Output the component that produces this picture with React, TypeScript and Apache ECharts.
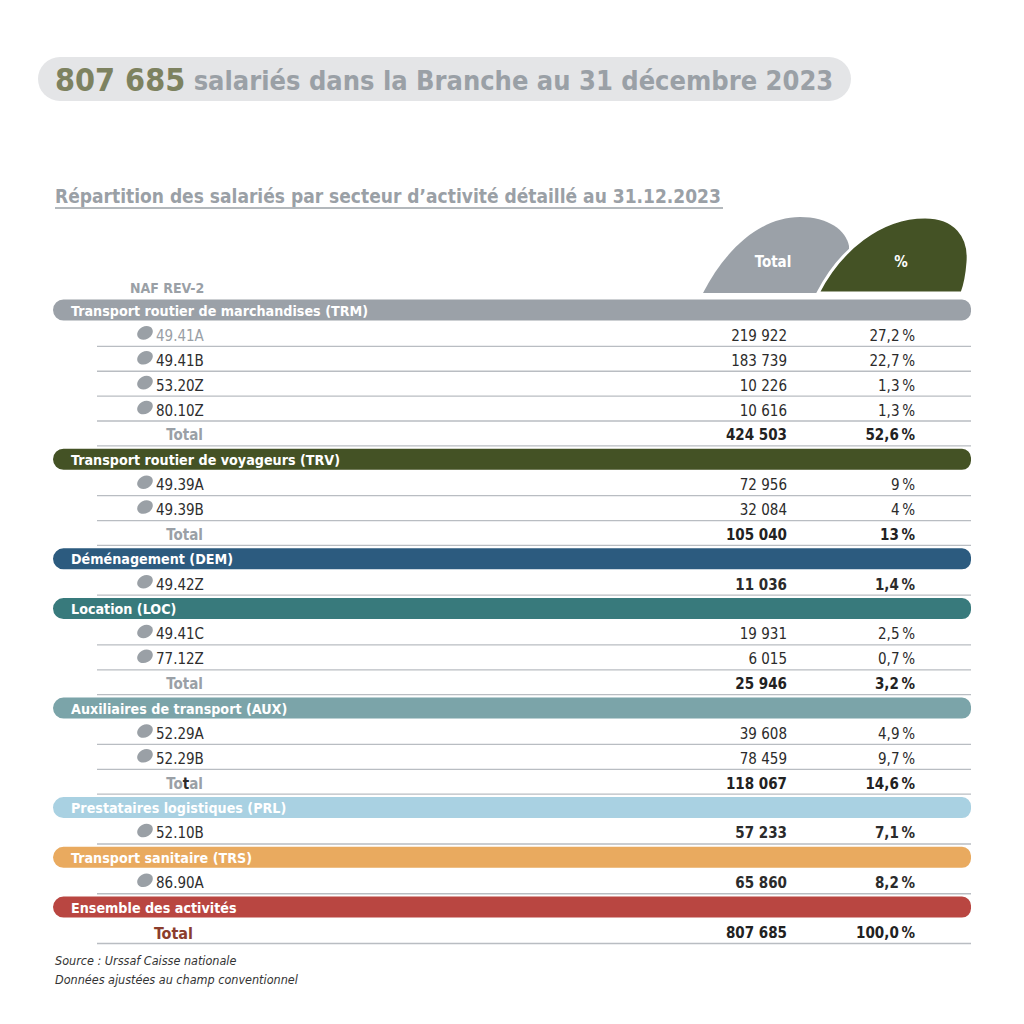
import React, { useEffect, useRef } from "react";
import * as echarts from "echarts";

const titleValue = "807 685";
const titleRest = " salariés dans la Branche au 31 décembre 2023";
const subtitle = "Répartition des salariés par secteur d’activité détaillé au 31.12.2023";
const nafLabel = "NAF REV-2";
const colHeaders = ["Total", "%"];

const sectorNames = [
  "Transport routier de marchandises (TRM)",
  "Transport routier de voyageurs (TRV)",
  "Déménagement (DEM)",
  "Location (LOC)",
  "Auxiliaires de transport (AUX)",
  "Prestataires logistiques (PRL)",
  "Transport sanitaire (TRS)",
  "Ensemble des activités",
];
const codes: string[][] = [
  ["49.41A", "49.41B", "53.20Z", "80.10Z"],
  ["49.39A", "49.39B"],
  ["49.42Z"],
  ["49.41C", "77.12Z"],
  ["52.29A", "52.29B"],
  ["52.10B"],
  ["86.90A"],
  [],
];
const effectifs: number[][] = [
  [219922, 183739, 10226, 10616],
  [72956, 32084],
  [11036],
  [19931, 6015],
  [39608, 78459],
  [57233],
  [65860],
  [],
];
const parts: number[][] = [
  [27.2, 22.7, 1.3, 1.3],
  [9, 4],
  [1.4],
  [2.5, 0.7],
  [4.9, 9.7],
  [7.1],
  [8.2],
  [],
];
const totauxEffectif: (number | null)[] = [424503, 105040, null, 25946, 118067, null, null, 807685];
const totauxPart: (number | null)[] = [52.6, 13, null, 3.2, 14.6, null, null, 100.0];
const sources = ["Source : Urssaf Caisse nationale", "Données ajustées au champ conventionnel"];

const sectorColors = ["#9ba1a8", "#445225", "#2c5b7f", "#387a7c", "#7ba4a9", "#a9d1e2", "#e9aa5f", "#b94641"];

const FONT = "'DejaVu Sans Condensed', 'Liberation Sans Narrow', Roboto, sans-serif";

function fmtNum(n: number) {
  return String(n).replace(/\B(?=(\d{3})+(?!\d))/g, " ");
}
function fmtPct(v: number) {
  const s = Number.isInteger(v) && v < 100 ? String(v) : v.toFixed(1);
  return s.replace(".", ",") + "\u2009%";
}

echarts.graphic.registerShape(
  "blobGray",
  echarts.graphic.extendPath("M703,293 C725,250 760,217 800,217 C828,217 846,230 849,246 L849,293 Z", {})
);
echarts.graphic.registerShape(
  "blobGreen",
  echarts.graphic.extendPath("M818,293 C840,250 880,217 925,217 C955,217 970,236 968,262 C967,276 965,285 962,293 Z", {})
);

function txt(x: number, y: number, text: string, opts: any = {}) {
  return {
    type: "text",
    x,
    y,
    silent: true,
    style: {
      text,
      fill: opts.fill || "#333",
      fontFamily: FONT,
      fontSize: opts.size || 15,
      fontWeight: opts.bold ? "bold" : "normal",
      fontStyle: opts.italic ? "italic" : "normal",
      textAlign: opts.align || "left",
      textVerticalAlign: "middle",
    },
  };
}

export default function App() {
  const ref = useRef<HTMLDivElement>(null);
  useEffect(() => {
    document.body.style.margin = "0";
    const chart = echarts.init(ref.current!, null, { renderer: "svg" });
    const els: any[] = [];
    // title pill
    els.push({ type: "rect", shape: { x: 38, y: 57, width: 813, height: 44, r: 22 }, style: { fill: "#e4e5e7" } });
    els.push({
      type: "text",
      x: 55,
      y: 80,
      style: {
        text: `{a|${titleValue}}{b|${titleRest}}`,
        textVerticalAlign: "middle",
        rich: {
          a: { fontFamily: FONT, fontWeight: "bold", fontSize: 32, fill: "#7d8260", color: "#7d8260" },
          b: { fontFamily: FONT, fontWeight: "bold", fontSize: 27, fill: "#9aa0a6", color: "#9aa0a6" },
        },
      },
    });
    // subtitle
    els.push(txt(55, 196, subtitle, { size: 19, bold: true, fill: "#9aa0a6" }));
    els.push({ type: "line", shape: { x1: 55, y1: 208, x2: 723, y2: 208 }, style: { stroke: "#9aa0a6", lineWidth: 1.5 } });
    // column header blobs
    els.push({ type: "blobGray", x: 0, y: 0, style: { fill: "#9ba1a8" } });
    els.push({ type: "blobGreen", x: 0, y: 0, style: { fill: "#445225", stroke: "#ffffff", lineWidth: 3 } });
    els.push(txt(773, 262, colHeaders[0], { size: 15, bold: true, fill: "#ffffff", align: "center" }));
    els.push(txt(901, 262, colHeaders[1], { size: 15, bold: true, fill: "#ffffff", align: "center" }));
    els.push(txt(130, 288, nafLabel, { size: 14, bold: true, fill: "#9aa0a6" }));

    const pitch = 24.88;
    let y = 310;
    const rowLine = (cy: number) =>
      els.push({ type: "line", shape: { x1: 97, y1: cy + 11.5, x2: 971, y2: cy + 11.5 }, style: { stroke: "#b9bdc2", lineWidth: 1.3 } });

    sectorNames.forEach((name, si) => {
      els.push({
        type: "rect",
        shape: { x: 53, y: y - 10.5, width: 918, height: 21, r: [10.5, 9, 9, 10.5] },
        style: { fill: sectorColors[si] },
      });
      els.push(txt(71, y + 0.5, name, { size: 14.2, bold: true, fill: "#ffffff" }));
      y += pitch;
      const single = codes[si].length === 1;
      codes[si].forEach((code, ci) => {
        els.push({
          type: "ellipse",
          x: 145,
          y: y - 2,
          rotation: 0.5,
          shape: { cx: 0, cy: 0, rx: 8.2, ry: 6.3 },
          style: { fill: "#9aa0a6" },
        });
        els.push(txt(156, y + 1, code, { size: 15, fill: si === 0 && ci === 0 ? "#9aa0a6" : "#2e2e2e" }));
        els.push(txt(787, y + 1, fmtNum(effectifs[si][ci]), { size: 15, bold: single, fill: "#2b2b2b", align: "right" }));
        els.push(txt(915, y + 1, fmtPct(parts[si][ci]), { size: 15, bold: single, fill: "#2b2b2b", align: "right" }));
        rowLine(y);
        y += pitch;
      });
      const te = totauxEffectif[si];
      const tp = totauxPart[si];
      if (te !== null && tp !== null) {
        const last = si === sectorNames.length - 1;
        if (last) {
          els.push(txt(193, y + 1, "Total", { size: 16, bold: true, fill: "#8b3d2c", align: "right" }));
        } else if (si === 4) {
          els.push({
            type: "text",
            x: 203,
            y: y + 1,
            style: {
              text: "{g|To}{d|t}{g|al}",
              textAlign: "right",
              textVerticalAlign: "middle",
              rich: {
                g: { fontFamily: FONT, fontWeight: "bold", fontSize: 15, fill: "#9aa0a6", color: "#9aa0a6" },
                d: { fontFamily: FONT, fontWeight: "bold", fontSize: 15, fill: "#2b2b2b", color: "#2b2b2b" },
              },
            },
          });
        } else {
          els.push(txt(203, y + 1, "Total", { size: 15, bold: true, fill: "#9aa0a6", align: "right" }));
        }
        els.push(txt(787, y + 1, fmtNum(te), { size: 15, bold: true, fill: "#222", align: "right" }));
        els.push(txt(915, y + 1, fmtPct(tp), { size: 15, bold: true, fill: "#222", align: "right" }));
        rowLine(y);
        y += pitch;
      }
    });

    els.push(txt(55, 960, sources[0], { size: 12.5, italic: true, fill: "#333" }));
    els.push(txt(55, 979, sources[1], { size: 12.5, italic: true, fill: "#333" }));

    chart.setOption({ animation: false, backgroundColor: "#ffffff", graphic: { elements: els } });
    return () => chart.dispose();
  }, []);
  return <div ref={ref} style={{ width: 1024, height: 1024 }} />;
}
